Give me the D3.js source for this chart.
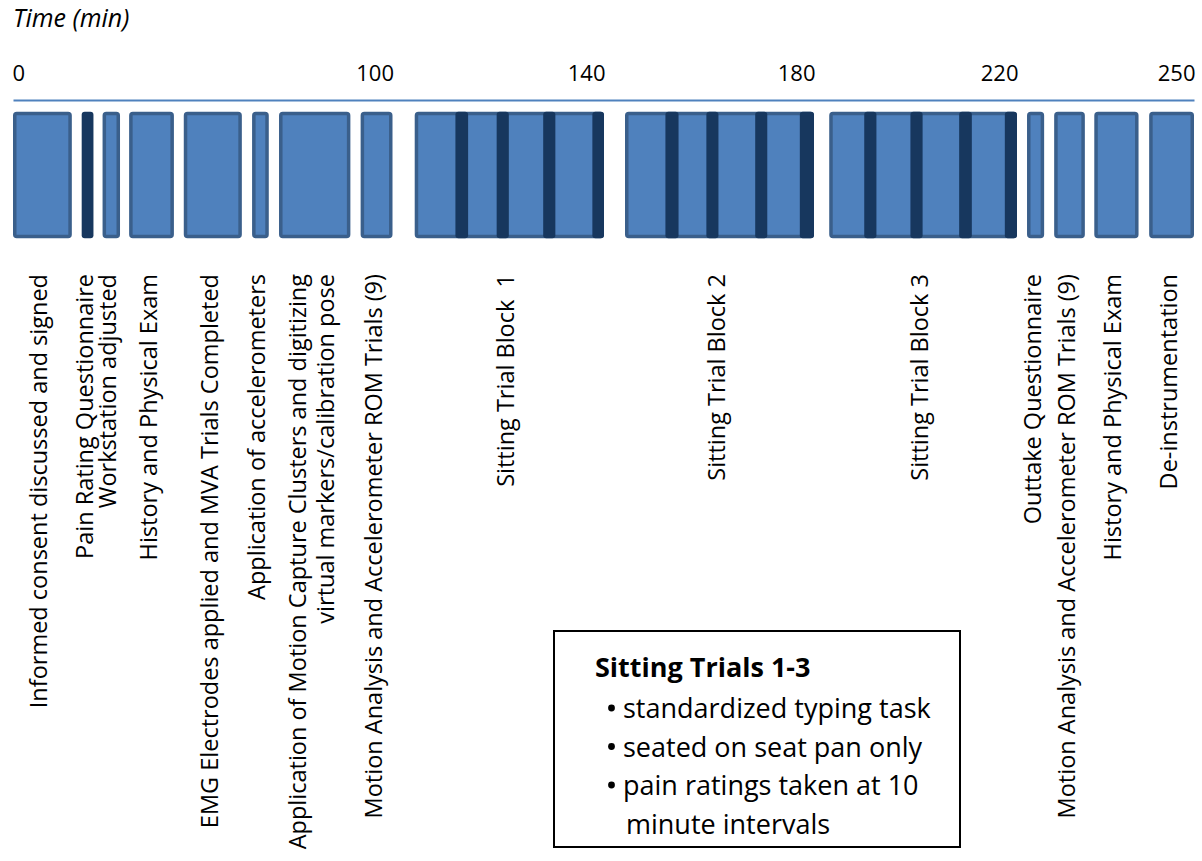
<!DOCTYPE html>
<html><head><meta charset="utf-8">
<script src="https://cdn.jsdelivr.net/npm/d3@7"></script>
<style>
body{margin:0;background:#fff}
svg{display:block}
text{font-family:"Open Sans",sans-serif;white-space:pre}
</style>
</head><body>
<svg id="chart" width="1202" height="861"></svg>
<script>
// ---------------- data ----------------
const tickValues = [0, 100, 140, 180, 220, 250];
const tickLabels = ["0", "100", "140", "180", "220", "250"];
const axisTitle = "Time (min)";

const activityLabels = [
  "Informed consent discussed and signed",
  "Pain Rating Questionnaire",
  "Workstation adjusted",
  "History and Physical Exam",
  "EMG Electrodes applied and MVA Trials Completed",
  "Application of accelerometers",
  "Application of Motion Capture Clusters and digitizing\nvirtual markers/calibration pose",
  "Motion Analysis and Accelerometer ROM Trials (9)",
  "Sitting Trial Block  1",
  "Sitting Trial Block 2",
  "Sitting Trial Block 3",
  "Outtake Questionnaire",
  "Motion Analysis and Accelerometer ROM Trials (9)",
  "History and Physical Exam",
  "De-instrumentation"
];
const activityStart = [0, 18.1, 23.6, 30.6, 45.0, 63.0, 70.1, 91.6, 104.2, 144.0, 183.0, 221.7, 226.3, 233.1, 242.4];
const activityEnd   = [15.5, 21.2, 28.2, 42.4, 60.3, 67.4, 88.9, 100, 140, 180, 220, 224.6, 231.5, 240.6, 250];
const activityKind  = ["task", "rating", "task", "task", "task", "task", "task", "task",
                       "block", "block", "block", "task", "task", "task", "task"];

// pain ratings taken during sitting trial blocks (minutes)
const ratingStart = [111.9, 119.7, 128.5, 137.8, 151.7, 159.5, 168.8, 177.3, 189.9, 199.0, 208.6, 217.6];
const ratingEnd   = [114.3, 122.0, 130.8, 140.0, 154.2, 161.8, 171.1, 180.0, 192.3, 201.4, 211.1, 220.0];

const legendTitle = "Sitting Trials 1-3";
const legendItems = ["standardized typing task", "seated on seat pan only", "pain ratings taken at 10\nminute intervals"];

// ---------------- layout ----------------
const axisY = 100, barTop = 111.7, barBottom = 238.3, labelTop = 274;
const stops = [13, 392.5, 604, 814, 1017, 1194];   // screen stops of the (non-proportional) time axis
const colFill = "#4f81bd", colStroke = "#3a5f8b", colDark = "#17375e";

const x = d3.scaleLinear().domain(tickValues).range(stops);
const svg = d3.select("#chart");

// axis title
svg.append("text").attr("x", 13).attr("y", 27)
  .attr("font-size", 25).attr("font-style", "italic").attr("fill", "#000").text(axisTitle);

// axis
const axisG = svg.append("g").attr("transform", `translate(0,${axisY})`)
  .call(d3.axisTop(x).tickValues(tickValues).tickFormat((d, i) => tickLabels[i])
    .tickSize(0).tickSizeOuter(0).tickPadding(19));
axisG.select(".domain").attr("stroke", colFill).attr("stroke-width", 2.2);
axisG.selectAll(".tick text")
  .attr("font-family", '"Open Sans",sans-serif').attr("font-size", 22).attr("fill", "#000")
  .attr("text-anchor", (d, i) => i === 0 ? "start" : "end")
  .attr("dx", (d, i) => i === 0 ? -1 : 1);

// activities
const acts = activityLabels.map((label, i) => ({
  label, start: activityStart[i], end: activityEnd[i], kind: activityKind[i]
}));
const ratings = ratingStart.map((s, i) => ({ start: s, end: ratingEnd[i] }));

const sw = 3.5;
svg.append("g").selectAll("rect")
  .data(acts.filter(d => d.kind !== "rating"))
  .join("rect")
  .attr("x", d => x(d.start) + sw / 2)
  .attr("width", d => x(d.end) - x(d.start) - sw)
  .attr("y", barTop + sw / 2)
  .attr("height", barBottom - barTop - sw)
  .attr("rx", 2)
  .attr("fill", colFill).attr("stroke", colStroke).attr("stroke-width", sw);

// dark rating marks (pain questionnaire + in-block ratings)
const darkMarks = acts.filter(d => d.kind === "rating").concat(ratings);
svg.append("g").selectAll("rect")
  .data(darkMarks)
  .join("rect")
  .attr("x", d => x(d.start))
  .attr("width", d => x(d.end) - x(d.start))
  .attr("y", barTop)
  .attr("height", barBottom - barTop)
  .attr("rx", 3)
  .attr("fill", colDark);

// rotated labels
const lineGap = 28;
const labelG = svg.append("g");
acts.forEach(d => {
  const lines = d.label.split("\n");
  const cx = (x(d.start) + x(d.end)) / 2;
  lines.forEach((ln, j) => {
    const off = (j - (lines.length - 1) / 2) * lineGap;
    labelG.append("text")
      .attr("transform", `translate(${cx + 5 + off},${labelTop}) rotate(-90)`)
      .attr("text-anchor", "end")
      .attr("font-size", 23.5)
      .attr("fill", "#000")
      .text(ln);
  });
});

// legend box
const lg = svg.append("g");
lg.append("rect").attr("x", 554).attr("y", 631).attr("width", 406).attr("height", 216)
  .attr("fill", "#fff").attr("stroke", "#000").attr("stroke-width", 2);
lg.append("text").attr("x", 595).attr("y", 677).attr("font-size", 27)
  .attr("font-weight", "bold").attr("fill", "#000").text(legendTitle);
let row = 0;
const rowH = 38.5, firstRow = 718;
legendItems.forEach(item => {
  item.split("\n").forEach((ln, j) => {
    const y = firstRow + row * rowH;
    if (j === 0) {
      lg.append("circle").attr("cx", 611.5).attr("cy", y - 10).attr("r", 3.4).attr("fill", "#000");
    }
    lg.append("text").attr("x", j === 0 ? 623 : 626).attr("y", y)
      .attr("font-size", 27).attr("fill", "#000").text(ln);
    row++;
  });
});
</script>
</body></html>
